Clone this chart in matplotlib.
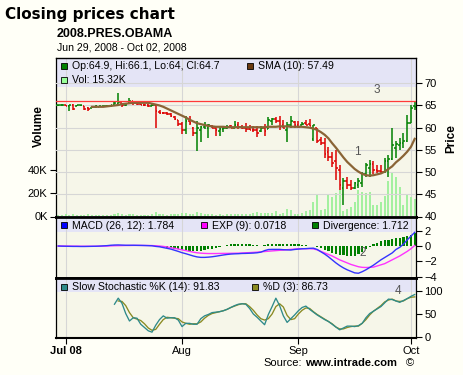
import matplotlib
matplotlib.use('Agg')
import matplotlib.pyplot as plt
from matplotlib.patches import Rectangle
import matplotlib.dates as mdates
import numpy as np
import pandas as pd

plt.rcParams['font.family'] = ['Liberation Sans', 'DejaVu Sans']

W, H = 463, 375

days = pd.date_range('2008-06-29', '2008-10-02', freq='D')

opens = [65.0, 65.1, 65.1, 64.8, 65.0, 64.9, 65.0, 64.8, 64.4, 64.5,
         64.6, 64.7, 64.8, 64.8, 64.9, 65.0, 65.4, 65.5, 65.0, 65.5,
         66.0, 65.6, 65.3, 65.2, 65.0, 64.9, 65.1, 63.6, 63.4, 63.2,
         63.0, 62.5, 61.8, 60.8, 59.5, 61.5, 60.0, 58.8, 59.5, 60.2,
         60.0, 60.4, 60.0, 59.3, 59.8, 60.0, 60.3, 60.0, 60.6, 60.2,
         60.0, 59.7, 59.5, 59.4, 59.3, 60.0, 59.8, 61.5, 61.9, 61.5,
         60.5, 59.5, 60.5, 61.2, 60.6, 60.7, 61.0, 60.9, 57.5, 60.0,
         57.2, 56.5, 54.5, 53.5, 52.5, 50.5, 46.5, 48.0, 47.0, 46.5,
         47.0, 47.5, 49.5, 51.0, 51.8, 50.5, 50.3, 50.0, 52.5, 53.0,
         55.5, 56.0, 56.5, 57.0, 61.0, 64.9]
highs = [65.2, 65.3, 65.2, 65.1, 65.4, 65.2, 65.2, 64.9, 64.6, 64.7,
         65.0, 64.9, 64.9, 65.0, 65.1, 65.7, 67.9, 65.6, 65.6, 66.6,
         66.1, 65.6, 65.4, 65.4, 65.4, 65.4, 65.4, 63.9, 63.5, 63.5,
         63.3, 62.7, 61.8, 61.2, 62.7, 62.7, 60.1, 61.6, 60.3, 61.2,
         60.9, 60.5, 60.1, 60.1, 60.3, 60.5, 60.6, 61.5, 61.2, 60.6,
         61.0, 60.6, 60.3, 60.3, 60.3, 60.8, 62.4, 62.1, 62.4, 62.6,
         61.8, 61.2, 62.6, 61.6, 61.4, 61.2, 61.8, 62.0, 60.6, 60.0,
         57.8, 57.6, 55.7, 54.6, 55.0, 51.6, 48.6, 49.0, 48.2, 47.8,
         48.7, 50.1, 52.0, 52.7, 52.4, 51.6, 51.5, 53.1, 53.9, 60.0,
         56.9, 57.6, 58.7, 62.9, 65.1, 66.1]
lows = [64.9, 64.9, 64.8, 63.7, 64.0, 64.9, 64.9, 63.9, 63.8, 64.4,
        64.5, 64.6, 64.6, 64.7, 64.6, 64.8, 65.0, 64.6, 64.8, 65.4,
        65.2, 65.0, 65.0, 64.9, 64.6, 64.9, 59.9, 63.0, 63.1, 62.9,
        62.4, 61.8, 60.3, 58.6, 58.6, 60.5, 58.1, 54.8, 56.7, 59.6,
        57.6, 59.9, 58.2, 58.1, 59.1, 59.7, 59.9, 59.9, 59.6, 59.7,
        59.1, 59.4, 59.1, 57.9, 59.1, 58.1, 59.7, 60.6, 61.1, 59.4,
        59.9, 56.7, 59.9, 59.9, 59.9, 60.6, 60.5, 60.3, 57.0, 56.5,
        56.1, 53.1, 52.4, 51.2, 48.2, 46.0, 42.6, 46.3, 46.0, 46.3,
        46.5, 46.7, 49.0, 49.0, 49.5, 49.7, 49.5, 49.7, 49.0, 52.7,
        53.1, 55.0, 55.5, 56.8, 61.0, 64.0]
closes = [65.1, 65.2, 64.9, 65.0, 64.3, 65.1, 65.1, 64.2, 64.1, 64.6,
          64.8, 64.8, 64.8, 64.9, 65.0, 65.5, 65.8, 65.1, 65.3, 66.0,
          65.6, 65.3, 65.2, 65.0, 64.8, 65.1, 63.8, 63.4, 63.2, 63.0,
          62.6, 62.0, 60.8, 59.5, 61.5, 61.0, 58.8, 60.0, 60.2, 60.5,
          60.6, 60.0, 59.5, 59.8, 60.0, 60.2, 60.0, 60.6, 60.2, 60.0,
          59.6, 59.5, 59.4, 58.8, 60.0, 59.2, 61.8, 61.9, 61.5, 60.2,
          60.0, 60.5, 61.5, 60.6, 60.2, 60.9, 60.7, 60.4, 60.5, 57.0,
          56.5, 54.0, 53.5, 52.0, 51.0, 47.0, 48.0, 47.0, 46.5, 47.5,
          48.0, 49.5, 51.5, 51.8, 50.5, 50.3, 50.0, 52.5, 53.0, 56.0,
          56.3, 56.5, 57.0, 61.0, 64.5, 64.7]
volume_k = [1.5, 1.2, 2.0, 1.0, 1.8, 1.2, 1.0, 1.5, 2.2, 1.4, 1.0, 1.2, 1.6, 1.0, 1.3, 2.0,
            3.0, 2.5, 1.5, 2.2, 1.8, 1.2, 1.0, 1.5, 1.2, 2.0, 4.0, 2.5, 1.8, 1.5, 2.2, 2.0,
            2.5, 3.0, 2.8, 2.0, 2.5, 3.5, 2.8, 2.0, 1.8, 2.5, 1.5, 2.2, 1.5, 2.0, 1.8, 2.5, 2.0,
            1.9, 2.2, 2.2, 2.7, 3.8, 2.7, 2.7, 3.2, 2.7, 4.4, 2.2, 3.2, 6.6, 5.5, 2.2, 2.4, 3.2, 4.4, 5.3,
            12.1, 19.0, 5.6, 6.1, 19.0, 17.0, 19.8, 22.6, 4.7, 6.4, 7.8, 12.7, 22.6, 21.2,
            19.8, 20.7, 9.8, 9.8, 12.7, 17.8, 30.6, 36.9, 34.0, 25.4, 9.8, 19.3, 16.4, 15.32]
sma10 = [np.nan] * 9 + [
    64.7, 64.7, 64.7, 64.7, 64.8, 64.9, 65.0, 65.1, 65.3, 65.4,
    65.5, 65.6, 65.6, 65.6, 65.6, 65.6, 65.4, 65.2, 65.0, 64.7,
    64.3, 63.9, 63.5, 63.1, 62.7, 62.3, 61.8, 61.4, 61.0, 60.8,
    60.6, 60.4, 60.3, 60.2, 60.2, 60.2, 60.1, 60.1, 60.1, 60.1,
    60.1, 60.1, 60.1, 60.1, 60.1, 60.1, 60.1, 60.2, 60.2, 60.2,
    60.3, 60.3, 60.3, 60.2, 60.2, 60.2, 60.2, 60.1, 60.0, 59.8,
    59.5, 59.0, 58.4, 57.6, 56.5, 55.5, 54.4, 53.3, 52.3, 51.5,
    50.7, 50.1, 49.6, 49.3, 49.2, 49.3, 49.5, 49.7, 50.1, 50.7,
    51.3, 52.2, 52.9, 53.7, 54.6, 55.7, 57.49]
macd = [0.0, -0.02, -0.03, -0.04, -0.05, -0.05, -0.06, -0.06, -0.05, -0.04, -0.03, -0.01, 0.02,
        0.05, 0.1, 0.13, 0.14, 0.12, 0.1, 0.1, 0.1, 0.09, 0.08, 0.07, 0.05, 0.03,
        -0.05, -0.1, -0.2, -0.3, -0.4, -0.55, -0.7, -0.87, -1.0, -1.15, -1.3, -1.42, -1.48, -1.48, -1.45,
        -1.4, -1.33, -1.25, -1.17, -1.1, -1.05, -1.02, -1.0, -0.97, -0.96, -0.94, -0.92, -0.88, -0.8, -0.6,
        -0.46, -0.44, -0.44, -0.44, -0.48, -0.5, -0.52, -0.45, -0.4, -0.36, -0.34, -0.3, -0.28,
        -0.45, -0.75, -1.05, -1.4, -1.8, -2.2, -2.55, -2.85, -3.1, -3.3, -3.5, -3.55, -3.35, -3.1,
        -2.8, -2.5, -2.15, -1.8, -1.5, -1.2, -0.9, -0.45, -0.17, 0.25, 0.8, 1.3, 1.784]
exp9 = [0.0, 0.0, -0.01, -0.01, -0.02, -0.02, -0.03, -0.03, -0.03, -0.03, -0.03, -0.02, -0.01,
        0.0, 0.02, 0.04, 0.05, 0.06, 0.07, 0.07, 0.08, 0.08, 0.08, 0.07, 0.07, 0.06,
        0.03, 0.0, -0.05, -0.12, -0.22, -0.3, -0.4, -0.5, -0.6, -0.7, -0.8, -0.88, -0.93, -0.96, -0.98,
        -0.98, -0.98, -0.97, -0.96, -0.96, -0.95, -0.94, -0.93, -0.91, -0.88, -0.86, -0.83, -0.8, -0.76, -0.72,
        -0.68, -0.64, -0.6, -0.56, -0.52, -0.48, -0.44, -0.4, -0.37, -0.35, -0.35, -0.35, -0.38,
        -0.5, -0.7, -0.9, -1.1, -1.3, -1.55, -1.8, -2.0, -2.2, -2.4, -2.55, -2.7, -2.78, -2.8,
        -2.78, -2.75, -2.6, -2.45, -2.3, -2.05, -1.8, -1.55, -1.3, -1.0, -0.7, -0.35, 0.0718]
divergence = [0.0, -0.02, -0.02, -0.03, -0.03, -0.03, -0.03, -0.03, -0.02, -0.01, 0.0, 0.01, 0.03,
              0.05, 0.08, 0.09, 0.09, 0.06, 0.03, 0.03, 0.02, 0.01, 0.0, 0.0, -0.02, -0.03,
              -0.08, -0.1, -0.15, -0.2, -0.3, -0.35, -0.45, -0.5, -0.55, -0.6, -0.65, -0.65, -0.6, -0.55, -0.45,
              -0.35, -0.25, -0.1, 0.0, 0.15, 0.2, 0.22, 0.22, 0.2, 0.2, 0.2, 0.15, 0.1, 0.05, 0.1,
              0.25, 0.3, 0.3, 0.28, 0.25, 0.2, 0.2, 0.2, 0.2, 0.15, 0.1, 0.05, 0.05,
              -0.1, -0.3, -0.5, -0.7, -0.9, -1.05, -1.15, -1.2, -1.3, -1.3, -1.25, -1.1, -0.8, -0.4,
              -0.1, 0.2, 0.4, 0.6, 0.75, 0.85, 0.9, 1.0, 1.05, 1.15, 1.3, 1.5, 1.712]
stoch_k = [np.nan] * 15 + [
    71, 84, 73, 51, 35, 42, 41, 28, 21, 14,
    11, 26, 38, 46, 41, 42, 42, 37, 23, 30,
    30, 28, 28, 40, 46, 49, 53, 54, 55, 57,
    60, 64, 68, 71, 72, 71, 62, 50, 43, 35,
    27, 49, 66, 84, 68, 46, 32, 40, 48, 57,
    64, 67, 60, 54, 48, 43, 38, 34, 28, 22,
    16, 20, 24, 24, 23, 25, 30, 42, 51, 56,
    61, 66, 74, 82, 81, 78, 75, 79, 83, 88,
    91.83]
stoch_d = [np.nan] * 16 + [
    78, 77, 68, 53, 42, 39, 36, 29, 20, 15,
    17, 28, 38, 43, 42, 41, 40, 33, 30, 28,
    29, 29, 33, 41, 47, 51, 53, 55, 57, 60,
    64, 67, 70, 72, 72, 66, 58, 48, 40, 37,
    40, 50, 66, 72, 65, 47, 38, 40, 50, 58,
    63, 62, 55, 49, 44, 39, 34, 29, 22, 18,
    18, 21, 23, 24, 24, 30, 38, 48, 56, 62,
    68, 76, 80, 82, 78, 77, 78, 83, 86, 86.73]

month_ticks = pd.to_datetime(['2008-07-01', '2008-08-01', '2008-09-01', '2008-10-01'])
month_labels = ['Jul 08', 'Aug', 'Sep', 'Oct']
last_high = 66.1

bg = '#FFFFF7'
plot_bg = '#F6F6E9'
band = '#E4E4F6'
grid_c = '#D6D6D6'


def fig_rect(l, t, r, b):
    return [l / W, 1 - b / H, (r - l) / W, (b - t) / H]


def legend_item(fig, x, y, color, label):
    sq = Rectangle((x / W, 1 - (y + 3) / H), 6 / W, 6 / H, transform=fig.transFigure,
                   facecolor=color, edgecolor='black', lw=0.6, figure=fig)
    fig.patches.append(sq)
    fig.text((x + 11) / W, 1 - y / H, label, fontsize=7.6, va='center', ha='left')


def style_panel(ax, band_frac):
    ax.set_facecolor(plot_bg)
    ax.add_patch(Rectangle((0, 1 - band_frac), 1, band_frac, transform=ax.transAxes,
                           facecolor=band, edgecolor='none', zorder=0.3))
    ax.set_xticks(mdates.date2num(month_ticks))
    ax.grid(axis='x', color=grid_c, lw=0.8)
    ax.set_axisbelow(True)
    for s in ['left', 'right']:
        ax.spines[s].set_linewidth(0.9)
    ax.spines['top'].set_linewidth(2)
    ax.spines['bottom'].set_linewidth(2)


x = mdates.date2num(days)
xlim = (x[0] - 0.58, x[0] + 95.34)

fig = plt.figure(figsize=(W / 100, H / 100), dpi=100, facecolor=bg)

# price / volume panel
ax_v = fig.add_axes(fig_rect(56, 57.5, 416, 216.5))
style_panel(ax_v, (87 - 57.5) / 159)
ax_v.spines['top'].set_linewidth(1)
ax_v.bar(x, volume_k, width=0.55, color='#A4F0A0', zorder=1)
ax_v.set_ylim(0, 135.9)
ax_v.set_yticks([0, 20, 40])
ax_v.set_yticklabels(['0K', '20K', '40K'])
ax_v.tick_params(axis='y', length=4, width=0.8, pad=2, labelsize=8)
ax_v.tick_params(axis='x', length=0, labelbottom=False)
ax_v.set_ylabel('Volume', fontsize=8.5, fontweight='bold')
ax_v.yaxis.set_label_coords(-0.031, 0.57)
ax_v.set_xlim(xlim)

ax_p = ax_v.twinx()
for s in ax_p.spines.values():
    s.set_visible(False)
ax_p.set_ylim(40, 75.8)
ax_p.set_yticks([40, 45, 50, 55, 60, 65, 70])
ax_p.grid(axis='y', color=grid_c, lw=0.8)
ax_p.tick_params(axis='y', length=4, width=0.8, pad=2, labelsize=8)
ax_p.set_ylabel('Price', fontsize=8.5, fontweight='bold')
ax_p.yaxis.set_label_coords(1.082, 0.49)

# bar colour: green when the close is not below the previous close
cols = []
prev = opens[0]
for c in closes:
    cols.append('#008000' if c >= prev else '#DD0000')
    prev = c
ax_p.vlines(x, lows, highs, colors=cols, lw=1.1, zorder=3)
ax_p.hlines(opens, x - 0.45, x, colors=cols, lw=1.1, zorder=3)
ax_p.hlines(closes, x, x + 0.45, colors=cols, lw=1.1, zorder=3)
ax_p.plot(x, sma10, color='#8A6436', lw=1.6, zorder=4)
ax_p.axhline(last_high, color='#FF3A3A', lw=0.9, zorder=5)
ax_p.set_xlim(xlim)

# MACD panel
ax_m = fig.add_axes(fig_rect(56, 216.5, 416, 278))
style_panel(ax_m, (232 - 216.5) / 61.5)
ax_m.bar(x, divergence, width=0.6, color='#008000', zorder=1)
ax_m.plot(x, exp9, color='#FF33FF', lw=1.0, zorder=2)
ax_m.plot(x, macd, color='#3333FF', lw=1.0, zorder=3)
ax_m.set_ylim(-4.17, 3.85)
ax_m.set_yticks([-4, -2, 0, 2])
ax_m.yaxis.tick_right()
ax_m.tick_params(axis='y', length=4, width=0.8, pad=2, labelsize=8)
ax_m.tick_params(axis='x', length=0, labelbottom=False)
ax_m.set_xlim(xlim)

# stochastic panel
ax_s = fig.add_axes(fig_rect(56, 278, 416, 337.7))
style_panel(ax_s, (292.3 - 278) / 59.7)
ax_s.spines['bottom'].set_linewidth(1.5)
ax_s.plot(x, stoch_d, color='#8A8A22', lw=0.95, zorder=2)
ax_s.plot(x, stoch_k, color='#2E8A8A', lw=0.95, zorder=3)
ax_s.set_ylim(-0.86, 127.3)
ax_s.set_yticks([0, 50, 100])
ax_s.yaxis.tick_right()
ax_s.tick_params(axis='y', length=4, width=0.8, pad=2, labelsize=8)
ax_s.set_xticklabels(month_labels)
ax_s.tick_params(axis='x', length=4, width=0.8, pad=2, labelsize=8)
ax_s.get_xticklabels()[0].set_fontweight('bold')
ax_s.set_xlim(xlim)

# legends
legend_item(fig, 61, 66, '#008000', 'Op:64.9, Hi:66.1, Lo:64, Cl:64.7')
legend_item(fig, 247, 66, '#6B3A10', 'SMA (10): 57.49')
legend_item(fig, 61, 80, '#99FF99', 'Vol: 15.32K')
legend_item(fig, 61, 225.5, '#0000FF', 'MACD (26, 12): 1.784')
legend_item(fig, 201, 225.5, '#FF00FF', 'EXP (9): 0.0718')
legend_item(fig, 312, 225.5, '#008000', 'Divergence: 1.712')
legend_item(fig, 61, 287, '#2E8A8A', 'Slow Stochastic %K (14): 91.83')
legend_item(fig, 252, 287, '#8A8A22', '%D (3): 86.73')

# marker numbers
for lbl, px_, py_ in [('1', 357, 152), ('2', 363, 253), ('3', 377, 90), ('4', 398, 291)]:
    fig.text(px_ / W, 1 - py_ / H, lbl, fontsize=8.5, color='#555555', ha='center', va='center')

# titles
fig.text(5 / W, 1 - 15 / H, 'Closing prices chart', fontsize=11, fontweight='bold',
         family='DejaVu Sans', va='center')
fig.text(57 / W, 1 - 34 / H, '2008.PRES.OBAMA', fontsize=9, fontweight='bold', va='center')
fig.text(57 / W, 1 - 47 / H, 'Jun 29, 2008 - Oct 02, 2008', fontsize=7.6, va='center')

fig.text(263 / W, 1 - 363 / H, 'Source:', fontsize=8, va='center')
fig.text(305 / W, 1 - 363 / H, 'www.intrade.com', fontsize=8, fontweight='bold', va='center')
fig.text(406 / W, 1 - 363 / H, '\u00a9', fontsize=8, va='center')

fig.savefig('out.png', dpi=100, facecolor=bg)
